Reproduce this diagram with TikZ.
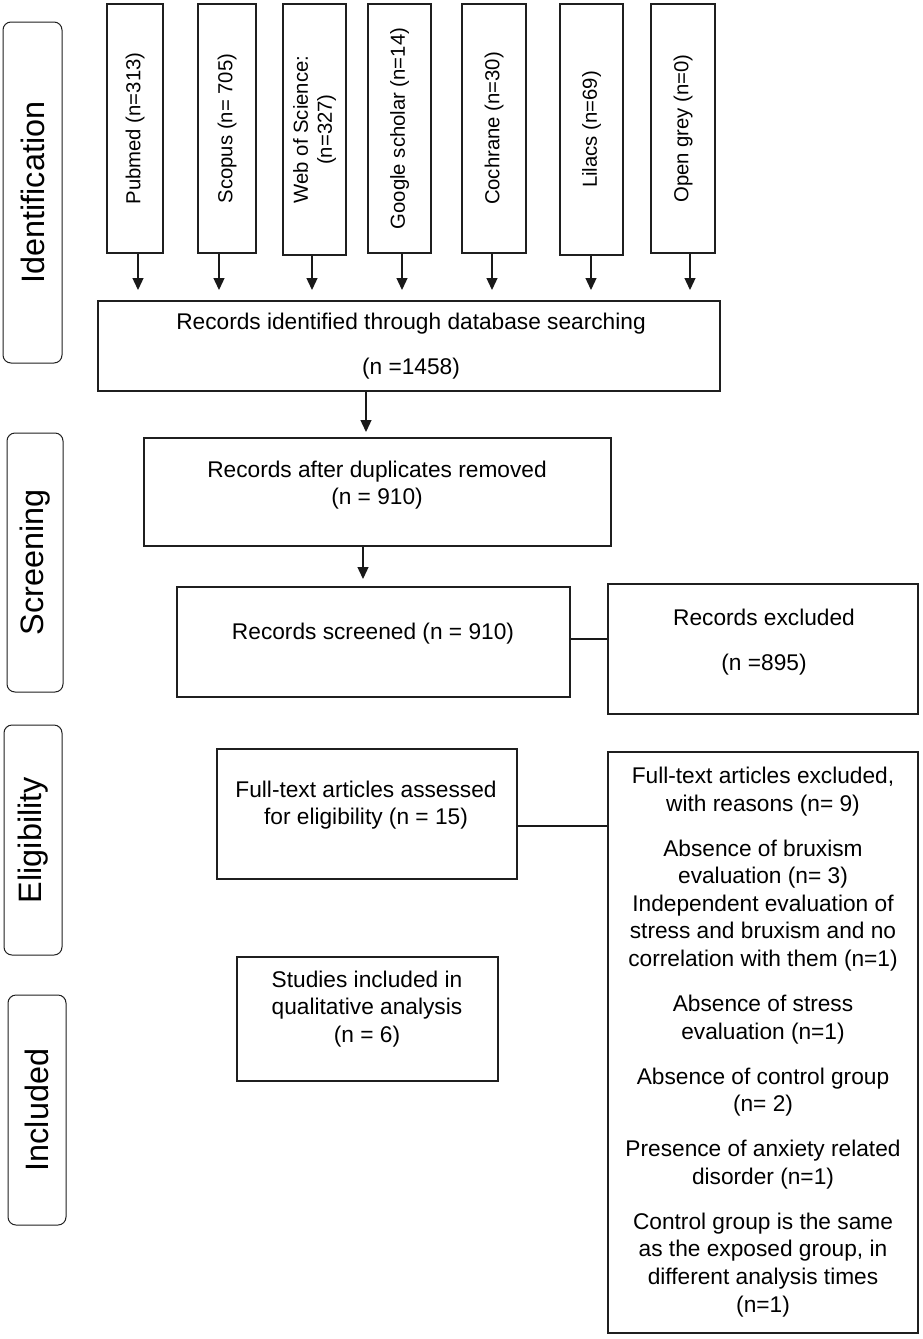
\documentclass[tikz,border=0pt]{standalone}
\usepackage{fontspec}
\setmainfont{Liberation Sans}
\usetikzlibrary{arrows.meta}
\begin{document}
\begin{tikzpicture}[x=1pt,y=-1pt,
  box/.style={draw=black!88, line width=1.2pt, inner sep=0pt, fill=none},
  lab/.style={draw=black!88, line width=1pt, inner sep=0pt, rounded corners=8pt},
  txt/.style={font=\fontsize{22.7}{27.6}\selectfont, align=center, inner sep=0pt},
  dbtxt/.style={font=\fontsize{20.3}{24}\selectfont, align=center, inner sep=0pt, rotate=90},
  labtxt/.style={font=\fontsize{32.4}{38}\selectfont, inner sep=0pt, rotate=90},
  arr/.style={-{Triangle[width=11pt,length=12pt]}, line width=1.3pt, draw=black!90},
  con/.style={line width=1.3pt, draw=black!90}]
\useasboundingbox (0,0) rectangle (923,1339);
% stage labels
\node[lab, minimum width=59pt, minimum height=341pt] (lid) at (32.5,192.5) {};
\node[labtxt] (lidt) at (lid) {Identification};
\node[lab, minimum width=56pt, minimum height=259pt] (lsc) at (35,562.5) {};
\node[labtxt] (lsct) at (lsc) {Screening};
\node[lab, minimum width=58pt, minimum height=230pt] (lel) at (33,840) {};
\node[labtxt] (lelt) at (lel) {Eligibility};
\node[lab, minimum width=58pt, minimum height=230pt] (lin) at (37,1110) {};
\node[labtxt] (lint) at (lin) {Included};
% database boxes
\node[box, minimum width=56pt, minimum height=249pt] (pub) at (135,128.5) {};
\node[dbtxt] (pubt) at (pub) {Pubmed (n=313)};
\node[box, minimum width=58pt, minimum height=249pt] (sco) at (227,128.5) {};
\node[dbtxt] (scot) at (sco) {Scopus (n= 705)};
\node[box, minimum width=63pt, minimum height=251pt] (wos) at (314.5,129.5) {};
\node[dbtxt] (wost) at (wos) {Web of Science:\\(n=327)};
\node[box, minimum width=63pt, minimum height=249pt] (goo) at (399.5,128.5) {};
\node[dbtxt] (goot) at (goo) {Google scholar (n=14)};
\node[box, minimum width=64pt, minimum height=249pt] (coc) at (494,128.5) {};
\node[dbtxt] (coct) at (coc) {Cochrane (n=30)};
\node[box, minimum width=63pt, minimum height=251pt] (lil) at (591.5,129.5) {};
\node[dbtxt] (lilt) at (lil) {Lilacs (n=69)};
\node[box, minimum width=64pt, minimum height=249pt] (ope) at (683,128.5) {};
\node[dbtxt] (opet) at (ope) {Open grey (n=0)};
\coordinate (a1) at (138,290);
\coordinate (a2) at (219,290);
\coordinate (a3) at (312,290);
\coordinate (a4) at (402,290);
\coordinate (a5) at (492,290);
\coordinate (a6) at (591,290);
\coordinate (a7) at (690,290);
\draw[arr] (pub.south -| a1) -- (a1);
\draw[arr] (sco.south -| a2) -- (a2);
\draw[arr] (wos.south -| a3) -- (a3);
\draw[arr] (goo.south -| a4) -- (a4);
\draw[arr] (coc.south -| a5) -- (a5);
\draw[arr] (lil.south -| a6) -- (a6);
\draw[arr] (ope.south -| a7) -- (a7);
% flow boxes
\node[box, minimum width=622pt, minimum height=90pt] (rec1) at (409,346) {};
\node[txt] (rec1t) at (411,346) {Records identified through database searching\\[17.4pt](n =1458)};
\node[box, minimum width=467pt, minimum height=108pt] (rec2) at (377.5,492) {};
\node[txt] (rec2t) at (377,485) {Records after duplicates removed\\(n = 910)};
\node[box, minimum width=393pt, minimum height=110pt] (rec3) at (373.5,642) {};
\node[txt] (rec3t) at (373,634) {Records screened (n = 910)};
\node[box, minimum width=310pt, minimum height=130pt] (exc) at (763,649) {};
\node[txt] (exct) at (764,642) {Records excluded\\[17.4pt](n =895)};
\node[box, minimum width=300pt, minimum height=130pt] (ful) at (367,814) {};
\node[txt] (fult) at (366,805) {Full-text articles assessed\\for eligibility (n = 15)};
\node[box, minimum width=310pt, minimum height=581pt] (fex) at (763,1042.5) {};
\node[txt] (fext) at (763,1042) {Full-text articles excluded,\\with reasons (n= 9)\\[17.4pt]Absence of bruxism\\evaluation (n= 3)\\Independent evaluation of\\stress and bruxism and no\\correlation with them (n=1)\\[17.4pt]Absence of stress\\evaluation (n=1)\\[17.4pt]Absence of control group\\(n= 2)\\[17.4pt]Presence of anxiety related\\disorder (n=1)\\[17.4pt]Control group is the same\\as the exposed group, in\\different analysis times\\(n=1)};
\node[box, minimum width=261pt, minimum height=124pt] (stu) at (367.5,1019) {};
\node[txt] (stut) at (367,1009) {Studies included in\\qualitative analysis\\(n = 6)};
% connectors
\coordinate (c1) at (366,432);
\coordinate (c2) at (363,579);
\draw[arr] (rec1.south -| c1) -- (c1);
\draw[arr] (rec2.south -| c2) -- (c2);
\draw[con] ([yshift=3pt]rec3.east) -- ([yshift=3pt]rec3.east -| exc.west);
\draw[con] ([yshift=-12pt]ful.east) -- ([yshift=-12pt]ful.east -| fex.west);
\end{tikzpicture}
\end{document}
